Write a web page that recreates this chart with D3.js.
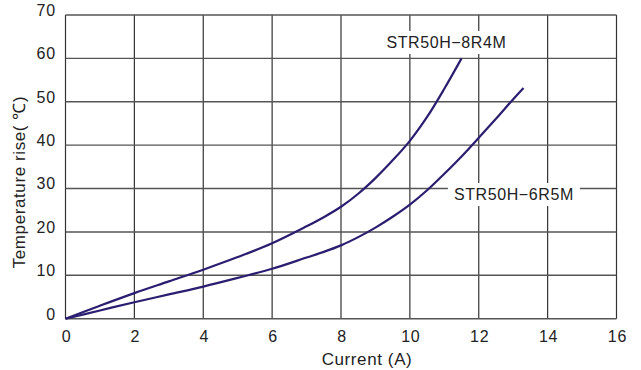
<!DOCTYPE html>
<html>
<head>
<meta charset="utf-8">
<script src="https://cdn.jsdelivr.net/npm/d3@7"></script>
<style>
  body { margin: 0; background: #fff; }
  svg text { font-family: "Liberation Sans", Arial, sans-serif; fill: #222; }
</style>
</head>
<body>
<div class="chart"></div>
<script>
  var xTicks = [0, 2, 4, 6, 8, 10, 12, 14, 16]
  var yTicks = [0, 10, 20, 30, 40, 50, 60, 70]

  // STR50H-8R4M
  var currentA = [0, 1, 2, 3, 4, 5, 6, 7, 7.5, 8, 8.5, 9, 9.5, 10, 10.5, 11, 11.5]
  var riseA = [0, 3, 5.9, 8.6, 11.3, 14.2, 17.4, 21.3, 23.4, 25.8, 28.8, 32.4, 36.5, 41, 46.5, 53, 60]

  // STR50H-6R5M
  var currentB = [0, 1, 2, 3, 4, 5, 6, 7, 7.5, 8, 8.5, 9, 9.5, 10, 10.5, 11, 11.5, 12, 12.5, 13, 13.3]
  var riseB = [0, 1.9, 3.8, 5.6, 7.4, 9.4, 11.5, 14.1, 15.4, 16.9, 18.8, 21, 23.5, 26.3, 29.6, 33.4, 37.4, 41.7, 46.1, 50.6, 53.2]

  var series = [
    { name: 'STR50H\u22128R4M', x: currentA, y: riseA, labelX: 11.06, labelY: 62.4 },
    { name: 'STR50H\u22126R5M', x: currentB, y: riseB, labelX: 13.02, labelY: 27.35 }
  ]

  var width = 641
  var height = 370
  var x = d3.scaleLinear().domain([0, 16]).range([65.5, 616.5])
  var y = d3.scaleLinear().domain([0, 70]).range([318.7, 15])

  var svg = d3.select('.chart')
    .append('svg')
    .attr('width', width)
    .attr('height', height)

  // grid
  svg.selectAll('.vgrid')
    .data(xTicks)
    .enter()
    .append('line')
    .attr('class', 'vgrid')
    .attr('x1', function (d) { return x(d) })
    .attr('x2', function (d) { return x(d) })
    .attr('y1', y(0))
    .attr('y2', y(70))
    .attr('stroke', '#333')
    .attr('stroke-width', 1.2)

  svg.selectAll('.hgrid')
    .data(yTicks)
    .enter()
    .append('line')
    .attr('class', 'hgrid')
    .attr('x1', x(0))
    .attr('x2', x(16))
    .attr('y1', function (d) { return y(d) })
    .attr('y2', function (d) { return y(d) })
    .attr('stroke', '#555')
    .attr('stroke-width', 1.4)

  // tick labels
  svg.selectAll('.xlab')
    .data(xTicks)
    .enter()
    .append('text')
    .attr('x', function (d) { return x(d) + 1 })
    .attr('y', 341.8)
    .attr('text-anchor', 'middle')
    .attr('font-size', '16px')
    .attr('letter-spacing', '0.8px')
    .text(function (d) { return d })

  svg.selectAll('.ylab')
    .data(yTicks)
    .enter()
    .append('text')
    .attr('x', 56)
    .attr('y', function (d) { return y(d) + 0.8 })
    .attr('text-anchor', 'end')
    .attr('font-size', '16px')
    .attr('letter-spacing', '0.8px')
    .text(function (d) { return d })

  // axis titles
  svg.append('text')
    .attr('x', 367)
    .attr('y', 365)
    .attr('text-anchor', 'middle')
    .attr('font-size', '17px')
    .attr('letter-spacing', '0.6px')
    .text('Current (A)')

  svg.append('text')
    .attr('transform', 'translate(25,' + 182 + ') rotate(-90)')
    .attr('text-anchor', 'middle')
    .attr('font-size', '17px')
    .attr('letter-spacing', '0.6px')
    .text('Temperature rise( \u2103)')

  // curves
  var line = d3.line()
    .x(function (d) { return x(d[0]) })
    .y(function (d) { return y(d[1]) })
    .curve(d3.curveCatmullRom.alpha(0.5))

  svg.selectAll('.curve')
    .data(series)
    .enter()
    .append('path')
    .attr('class', 'curve')
    .attr('d', function (s) {
      return line(s.x.map(function (v, i) { return [v, s.y[i]] }))
    })
    .attr('fill', 'none')
    .attr('stroke', '#2a1e70')
    .attr('stroke-width', 2.2)

  // series labels with white boxes that break the grid
  series.forEach(function (s) {
    var g = svg.append('g')
    var t = g.append('text')
      .attr('x', x(s.labelX))
      .attr('y', y(s.labelY))
      .attr('text-anchor', 'middle')
      .attr('font-size', '16px')
      .attr('letter-spacing', '0.6px')
      .text(s.name)
    var b = t.node().getBBox()
    g.insert('rect', 'text')
      .attr('x', b.x - 6)
      .attr('y', b.y - 3)
      .attr('width', b.width + 12)
      .attr('height', b.height + 6)
      .attr('fill', '#fff')
  })
</script>
</body>
</html>
